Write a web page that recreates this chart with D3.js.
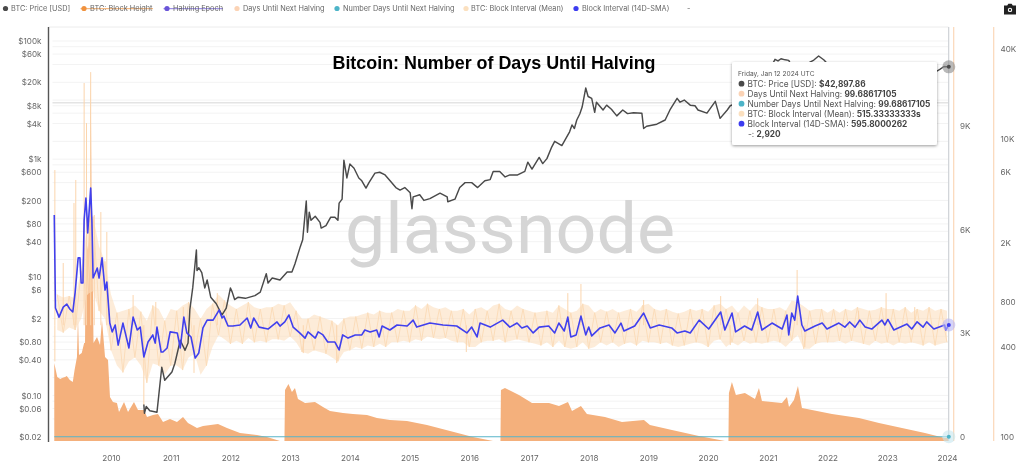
<!DOCTYPE html>
<html><head><meta charset="utf-8">
<script src="https://cdn.jsdelivr.net/npm/d3@7"></script>
<style>
html,body{margin:0;padding:0;background:#fff;overflow:hidden}
svg{display:block;filter:blur(0.35px)}
text{font-family:Inter,"Noto Sans",sans-serif}
</style></head><body><svg id="c" width="1024" height="467"></svg>
<script>
// ---------- data ----------
const yearTicks=[2010,2011,2012,2013,2014,2015,2016,2017,2018,2019,2020,2021,2022,2023,2024];
const priceTicks=[100000,60000,20000,8000,4000,1000,600,200,80,40,10,6,2,0.8,0.4,0.1,0.06,0.02];
const priceTickLabels=["$100k","$60k","$20k","$8k","$4k","$1k","$600","$200","$80","$40","$10","$6","$2","$0.80","$0.40","$0.10","$0.06","$0.02"];
const gridValues=[100000,80000,60000,40000,20000,10000,8000,6000,4000,2000,1000,800,600,400,200,100,80,60,40,20,10,8,6,4,2,1,0.8,0.6,0.4,0.2,0.1,0.08,0.06,0.04];
const daysTicks=[0,3000,6000,9000];
const daysTickLabels=["0","3K","6K","9K"];
const intervalTicks=[100,400,800,2000,6000,10000,40000];
const intervalTickLabels=["100","400","800","2K","6K","10K","40K"];
const price=[[2010.55,.07],[2010.56,.05],[2010.59,.065],[2010.65,.055],[2010.77,.052],[2010.80,.1],[2010.85,.30],[2010.90,.18],[2011.02,.25],[2011.07,.35],[2011.16,.86],[2011.24,.58],[2011.29,.77],[2011.32,2.8],[2011.37,6.8],[2011.43,29],[2011.44,13],[2011.47,14.5],[2011.52,12],[2011.57,6.6],[2011.61,9],[2011.67,4.6],[2011.76,3.6],[2011.86,2.3],[2011.93,3],[2012.0,6.6],[2012.03,5.6],[2012.07,4.2],[2012.13,4.6],[2012.25,4.4],[2012.41,4.9],[2012.50,5.6],[2012.60,11.5],[2012.63,8],[2012.70,9.7],[2012.83,9],[2012.95,12.3],[2013.03,12.3],[2013.08,16.8],[2013.17,33],[2013.21,43],[2013.27,196],[2013.29,58],[2013.32,126],[2013.35,92],[2013.42,108],[2013.50,85],[2013.52,68],[2013.60,75],[2013.68,104],[2013.75,104],[2013.80,92],[2013.82,180],[2013.87,210],[2013.90,960],[2013.95,480],[2014.0,825],[2014.07,700],[2014.15,480],[2014.20,430],[2014.27,324],[2014.32,400],[2014.42,580],[2014.50,600],[2014.59,540],[2014.67,435],[2014.77,330],[2014.84,300],[2014.92,330],[2015.01,270],[2015.04,145],[2015.06,230],[2015.17,250],[2015.24,200],[2015.34,215],[2015.51,265],[2015.63,230],[2015.64,190],[2015.76,210],[2015.84,330],[2015.93,400],[2016.04,400],[2016.14,330],[2016.26,430],[2016.35,450],[2016.40,620],[2016.51,620],[2016.60,500],[2016.68,540],[2016.81,540],[2016.93,620],[2016.98,890],[2017.05,680],[2017.17,1070],[2017.23,840],[2017.30,1020],[2017.38,1600],[2017.43,2000],[2017.55,1700],[2017.68,2900],[2017.72,3800],[2017.76,3300],[2017.80,4600],[2017.85,5800],[2017.89,7600],[2017.95,16000],[2017.99,11500],[2018.05,10700],[2018.10,6200],[2018.13,9200],[2018.24,6800],[2018.30,8200],[2018.38,7000],[2018.47,5400],[2018.57,6800],[2018.65,5900],[2018.75,6100],[2018.89,6000],[2018.92,3300],[2018.97,3600],[2019.14,3900],[2019.28,4600],[2019.36,6800],[2019.48,10700],[2019.53,9200],[2019.60,10000],[2019.70,8200],[2019.78,8000],[2019.83,6800],[2019.98,6000],[2020.12,9500],[2020.20,4900],[2020.32,6800],[2020.37,8000],[2020.60,10000],[2020.85,15000],[2021.0,29000],[2021.12,49000],[2021.17,46000],[2021.22,50000],[2021.29,48000],[2021.35,47000],[2021.45,30000],[2021.62,35000],[2021.69,43000],[2021.77,47600],[2021.85,55700],[2021.94,47600],[2021.99,42000],[2022.3,30000],[2022.6,20000],[2023.0,17000],[2023.5,29000],[2023.83,31000],[2023.88,33000],[2023.95,37000],[2024.03,36500]];
const daysUntil=[[2009.05,2262],[2009.10,1856],[2009.15,1798],[2009.18,1827],[2009.23,1856],[2009.26,1885],[2009.31,1769],[2009.36,1711],[2009.39,2059],[2009.43,2436],[2009.447,3596],[2009.464,2494],[2009.51,2552],[2009.55,2842],[2009.565,2842],[2009.58,5829],[2009.615,5539],[2009.648,6699],[2009.66,10701],[2009.673,7279],[2009.69,5500],[2009.70,4000],[2009.707,2842],[2009.766,3016],[2009.816,2784],[2009.849,3509],[2009.90,2436],[2009.95,2349],[2009.983,1276],[2010.033,1131],[2010.10,1102],[2010.134,841],[2010.218,1131],[2010.285,841],[2010.385,1131],[2010.452,899],[2010.553,899],[2010.603,696],[2010.703,754],[2010.787,783],[2010.871,551],[2010.988,638],[2011.105,551],[2011.206,696],[2011.289,522],[2011.44,377],[2011.541,435],[2011.792,493],[2011.942,377],[2012.16,232],[2012.445,174],[2012.612,116],[2012.83,0],[2012.905,0],[2012.914,1479],[2012.972,1653],[2013.03,1421],[2013.081,1537],[2013.131,1218],[2013.249,1102],[2013.416,1131],[2013.55,986],[2013.667,870],[2013.885,812],[2014.052,783],[2014.287,754],[2014.454,667],[2014.672,609],[2014.956,580],[2015.291,464],[2015.677,290],[2016.062,116],[2016.397,0],[2016.522,0],[2016.53,1479],[2016.597,1537],[2016.832,1334],[2017.05,1102],[2017.335,1102],[2017.502,1015],[2017.653,1131],[2017.72,870],[2017.87,1015],[2017.97,783],[2018.272,696],[2018.557,551],[2018.925,609],[2019.025,464],[2019.394,319],[2019.846,145],[2020.281,0],[2020.34,0],[2020.348,1392],[2020.398,1711],[2020.465,1334],[2020.616,1392],[2020.784,1218],[2020.851,1537],[2020.901,1160],[2021.069,1131],[2021.236,1102],[2021.32,1276],[2021.354,986],[2021.437,1189],[2021.504,1595],[2021.571,957],[2021.739,899],[2022.074,783],[2022.526,667],[2022.861,522],[2023.246,377],[2023.631,232],[2023.966,87],[2024.03,100]];
const numberDays=[[2009.05,0],[2024.03,0]];
const sma14=[[2009.05,3076],[2009.07,730],[2009.13,635],[2009.20,741],[2009.26,776],[2009.31,720],[2009.36,687],[2009.40,934],[2009.45,1585],[2009.48,1585],[2009.50,1075],[2009.53,1075],[2009.55,2846],[2009.58,3990],[2009.60,2900],[2009.61,2330],[2009.66,4670],[2009.68,2846],[2009.70,1161],[2009.77,1355],[2009.80,1161],[2009.85,1585],[2009.90,964],[2009.93,1091],[2009.98,579],[2010.02,505],[2010.07,562],[2010.12,412],[2010.20,579],[2010.30,394],[2010.37,635],[2010.44,520],[2010.49,544],[2010.55,343],[2010.62,432],[2010.70,482],[2010.74,425],[2010.77,544],[2010.84,370],[2010.87,370],[2010.94,394],[2010.99,505],[2011.11,497],[2011.16,394],[2011.22,635],[2011.27,497],[2011.34,467],[2011.41,337],[2011.47,365],[2011.54,537],[2011.61,606],[2011.71,606],[2011.81,708],[2011.86,626],[2011.89,645],[2011.96,553],[2012.04,553],[2012.16,562],[2012.28,626],[2012.34,537],[2012.39,626],[2012.48,544],[2012.63,528],[2012.78,589],[2012.83,553],[2012.91,589],[2012.98,656],[2013.05,544],[2013.16,497],[2013.25,459],[2013.30,505],[2013.42,459],[2013.47,505],[2013.55,482],[2013.63,432],[2013.75,432],[2013.82,382],[2013.88,482],[2013.97,459],[2014.09,482],[2014.20,482],[2014.25,520],[2014.34,505],[2014.45,520],[2014.49,467],[2014.54,553],[2014.67,520],[2014.79,562],[2014.96,553],[2015.06,606],[2015.12,544],[2015.34,579],[2015.56,562],[2015.79,553],[2015.96,497],[2016.04,544],[2016.13,467],[2016.18,579],[2016.35,544],[2016.56,606],[2016.68,544],[2016.80,579],[2016.88,537],[2016.97,553],[2017.07,497],[2017.17,544],[2017.33,553],[2017.43,497],[2017.50,579],[2017.59,512],[2017.65,635],[2017.70,467],[2017.79,482],[2017.87,645],[2017.95,482],[2018.00,544],[2018.05,475],[2018.19,537],[2018.34,562],[2018.44,497],[2018.54,579],[2018.59,512],[2018.77,553],[2018.92,676],[2019.03,537],[2019.18,562],[2019.39,537],[2019.48,497],[2019.61,512],[2019.70,497],[2019.85,606],[2020.01,528],[2020.21,687],[2020.28,520],[2020.40,676],[2020.46,505],[2020.61,553],[2020.73,520],[2020.83,687],[2020.90,520],[2021.07,579],[2021.24,528],[2021.32,656],[2021.35,482],[2021.40,676],[2021.45,606],[2021.50,879],[2021.57,562],[2021.62,512],[2021.79,553],[2021.91,579],[2021.99,528],[2022.19,579],[2022.29,544],[2022.37,589],[2022.46,544],[2022.54,606],[2022.63,544],[2022.74,528],[2022.91,606],[2022.96,562],[2023.01,612],[2023.11,520],[2023.33,570],[2023.41,528],[2023.50,590],[2023.60,544],[2023.66,590],[2023.78,528],[2023.96,562],[2023.98,520],[2024.03,562]];
const bandHigh=[900,860,880,850,1300,2600,3000,1900,1500,900, 680,700,720,760,690,600,760,720,600,720, 700,760,800,720,620,720,780,900,820,760, 720,760,800,740,720,740,740,780,760,800, 700,620,620,660,640,620,600,560,620,640, 640,660,680,660,700,680,680,720,700,700, 760,720,780,740,720,740,700,700,720,660, 720,740,700,760,780,720,700,760,720,700, 680,690,700,680,760,720,680,700,780,760, 680,720,690,720,680,700,720,690,760,780, 720,700,720,690,670,690,720,700,720,690, 760,780,720,760,680,760,700,780,740,720, 720,740,700,820,800,750,700,720,720,680, 720,680,720,700,740,720,700,710,740,720, 720,700,740,680,720,700,740,700,720,700];
const bandLow=[520,500,540,520,620,900,950,700,620,380, 300,270,320,340,300,230,310,300,260,300, 300,280,340,360,260,300,400,480,450,420, 440,420,460,430,440,430,450,450,440,470, 430,370,360,380,370,360,340,320,370,380, 400,390,410,400,420,400,430,430,440,430, 450,440,470,460,450,460,440,430,430,400, 400,430,440,440,450,430,440,450,440,430, 420,410,430,400,440,400,390,400,430,390, 400,430,410,430,400,420,430,410,440,430, 430,420,430,410,400,410,420,430,420,400, 440,450,400,430,410,440,420,430,420,430, 440,430,400,440,480,390,390,420,430,430, 430,440,420,440,430,420,410,440,420,430, 410,430,420,430,420,410,430,410,420,430];
const bandSpikes=[[2009.06,6160],[2009.06,320],[2009.2,1465],[2009.38,3700],[2009.41,5285],[2009.55,23650],[2009.59,12740],[2009.66,28000],[2009.72,3076],[2009.83,3220],[2009.93,2366],[2010.37,893],[2010.75,802],[2010.55,163],[2011.21,741],[2011.39,268],[2011.78,920],[2013.22,364],[2013.78,312],[2015.95,370],[2017.65,920],[2017.87,1059],[2018.92,827],[2020.21,879],[2020.37,412],[2020.83,850],[2021.49,1315],[2021.62,400],[2022.52,700],[2022.98,920],[2023.46,741]];
const legendNames=["BTC: Price [USD]","BTC: Block Height","Halving Epoch","Days Until Next Halving","Number Days Until Next Halving","BTC: Block Interval (Mean)","Block Interval (14D-SMA)","-"];
const legendColors=["#4a4a4a","#f0923e","#6a55d8","#fbd3b5","#4db4c8","#fbe0bf","#3c3cf0",null];
const legendStruck=[false,true,true,false,false,false,false,false];
const tooltipRows=[["BTC: Price [USD]: ","$42,897.86","#4a4a4a"],["Days Until Next Halving: ","99.68617105","#fbd3b5"],["Number Days Until Next Halving: ","99.68617105","#4db4c8"],["BTC: Block Interval (Mean): ","515.33333333s","#fbe0bf"],["Block Interval (14D-SMA): ","595.8000262","#3c3cf0"],["-: ","2,920",null]];
const tooltipDate="Friday, Jan 12 2024 UTC";
const titleText="Bitcoin: Number of Days Until Halving";

// ---------- scales ----------
const svg=d3.select("#c");
const plotLeft=48.5,plotTop=27,plotBottom=441,plotRight=948.5;
const x=d3.scaleLinear().domain([2010,2024]).range([111,947]);
const yPrice=d3.scaleLog().domain([0.02,100000]).range([436.7,41]);
const yDaysAxis=d3.scaleLinear().domain([0,9000]).range([436.7,126.2]);
const yDays=d3.scaleLinear().domain([0,9000]).range([plotBottom,plotBottom-310.5]);
const yInt=d3.scaleLog().domain([100,40000]).range([436.7,49]);
const endYear=2024.03;

// grid
svg.append("g").selectAll("line").data(gridValues).join("line")
 .attr("x1",plotLeft+4).attr("x2",plotRight).attr("y1",d=>yPrice(d)).attr("y2",d=>yPrice(d))
 .attr("stroke","#f3f3f3").attr("stroke-width",1);
svg.append("line").attr("x1",plotLeft+4).attr("x2",plotRight).attr("y1",yPrice(9000)).attr("y2",yPrice(9000)).attr("stroke","#e4e4e4").attr("stroke-width",1.3);
svg.append("line").attr("x1",plotLeft).attr("x2",plotRight).attr("y1",plotTop).attr("y2",plotTop).attr("stroke","#ececec");
// watermark
svg.append("text").attr("x",345).attr("y",253).attr("font-size",70).attr("font-weight",400).attr("fill","#d5d5d5").attr("textLength",330).attr("lengthAdjust","spacingAndGlyphs").style("font-family","Roboto,Inter,sans-serif").text("glassnode");
// axes frame
svg.append("line").attr("x1",plotLeft).attr("x2",plotLeft).attr("y1",plotTop).attr("y2",plotBottom+1).attr("stroke","#555").attr("stroke-width",1.4);
svg.append("line").attr("x1",plotRight).attr("x2",plotRight).attr("y1",plotTop).attr("y2",plotBottom).attr("stroke","#dcdcdc");
svg.append("line").attr("x1",953.7).attr("x2",953.7).attr("y1",plotTop).attr("y2",plotBottom).attr("stroke","#fbd8b8").attr("stroke-width",1.2);
svg.append("line").attr("x1",993.7).attr("x2",993.7).attr("y1",plotTop).attr("y2",plotBottom).attr("stroke","#fbd8b8").attr("stroke-width",1.2);

// area
svg.append("path").datum(daysUntil).attr("fill","#f4b07c")
 .attr("d",d3.area().x(d=>x(d[0])).y0(plotBottom).y1(d=>yDays(d[1])));
// block interval mean (pale)
const bandYears=d3.range(bandHigh.length).map(i=>2009.1+i*0.1);
const band=bandYears.map((t,i)=>({t,hi:bandHigh[i],lo:bandLow[i]}));
svg.append("path").datum(band).attr("fill","#fbdfc0").attr("fill-opacity",.6)
 .attr("d",d3.area().x(d=>x(d.t)).y0(d=>yInt(d.lo)).y1(d=>yInt(d.hi)));
svg.append("path").datum(band.map((d,i)=>[d.t,i%2?d.lo:d.hi])).attr("fill","none").attr("stroke","#fbdcb9").attr("stroke-width",1)
 .attr("d",d3.line().x(d=>x(d[0])).y(d=>yInt(d[1])));
svg.append("g").selectAll("line").data(bandSpikes).join("line")
 .attr("x1",d=>x(d[0])).attr("x2",d=>x(d[0])).attr("y1",d=>yInt(d[1])).attr("y2",yInt(560))
 .attr("stroke","#fbd5ad").attr("stroke-width",1);
// price
svg.append("path").datum(price).attr("fill","none").attr("stroke","#4a4a4a").attr("stroke-width",1.45).attr("stroke-linejoin","round")
 .attr("d",d3.line().x(d=>x(d[0])).y(d=>yPrice(d[1])));
// sma
svg.append("path").datum(sma14).attr("fill","none").attr("stroke","#4040ee").attr("stroke-width",1.6).attr("stroke-linejoin","round")
 .attr("d",d3.line().x(d=>x(d[0])).y(d=>yInt(d[1])));
// number days line
svg.append("path").datum(numberDays).attr("fill","none").attr("stroke","#57b5c9").attr("stroke-width",1.1)
 .attr("d",d3.line().x(d=>x(d[0])).y(d=>yDaysAxis(d[1])));

// axes labels
function styleAxis(g){g.select(".domain").remove();g.selectAll(".tick line").remove();
 g.selectAll("text").attr("fill","#666").attr("font-size",8.1).style("font-family","Inter,sans-serif");}
svg.append("g").attr("transform","translate(50,0)").call(d3.axisLeft(yPrice).tickValues(priceTicks).tickFormat((d,i)=>priceTickLabels[i]).tickPadding(8.5).tickSize(0)).call(styleAxis);
svg.append("g").attr("transform","translate(0,455.5)").call(d3.axisBottom(x).tickValues(yearTicks).tickFormat(d3.format("d")).tickSize(0).tickPadding(0)).call(styleAxis);
svg.append("g").attr("transform","translate(960,0)").call(d3.axisRight(yDaysAxis).tickValues(daysTicks).tickFormat((d,i)=>daysTickLabels[i]).tickSize(0).tickPadding(0)).call(styleAxis);
svg.append("g").attr("transform","translate(1000.5,0)").call(d3.axisRight(yInt).tickValues(intervalTicks).tickFormat((d,i)=>intervalTickLabels[i]).tickSize(0).tickPadding(0)).call(styleAxis);

// end markers
const endMarks=[[yPrice(36500),"#8a8a8a","#4a4a4a"],[yInt(562),"#b9b6f3","#3c3cf0"],[yDaysAxis(0),"#c7e6ef","#4db4c8"]];
svg.append("line").attr("x1",x(endYear)).attr("x2",x(endYear)).attr("y1",plotTop).attr("y2",plotBottom).attr("stroke","#cfd3d8");
endMarks.forEach(e=>{
 svg.append("circle").attr("cx",x(endYear)).attr("cy",e[0]).attr("r",6.5).attr("fill",e[1]).attr("fill-opacity",.6);
 svg.append("circle").attr("cx",x(endYear)).attr("cy",e[0]).attr("r",2).attr("fill",e[2]);
});

// title
svg.append("text").attr("x",494).attr("y",69).attr("text-anchor","middle").attr("font-size",17.9).attr("font-weight",700).attr("fill","#000").style("font-family","'Liberation Sans',Arial,sans-serif").text(titleText);

// tooltip
const defs=svg.append("defs");
const shadow=defs.append("filter").attr("id","sh").attr("x","-10%").attr("y","-10%").attr("width","120%").attr("height","125%");
shadow.append("feDropShadow").attr("dx",0).attr("dy",1).attr("stdDeviation",1.6).attr("flood-color","#000").attr("flood-opacity",.4);
const tipX=732,tipY=62;
const tip=svg.append("g").attr("transform",`translate(${tipX},${tipY})`);
tip.append("rect").attr("width",205).attr("height",83).attr("rx",2).attr("fill","#fff").attr("filter","url(#sh)");
tip.append("text").attr("x",6).attr("y",14).attr("font-size",6.6).attr("fill","#555").text(tooltipDate);
tooltipRows.forEach((r,i)=>{
 const yy=24.6+i*10;
 if(r[2]) tip.append("circle").attr("cx",9.5).attr("cy",yy-2.9).attr("r",2.9).attr("fill",r[2]);
 const t=tip.append("text").attr("x",r[2]?15.5:16).attr("y",yy).attr("font-size",8.3).attr("fill","#555");
 t.append("tspan").text(r[0]);
 t.append("tspan").attr("font-weight",700).attr("fill","#444").text(r[1]);
});

// legend
const legendDotX=[5.5,84,167,237,337,466,576,null];
const legendTextX=[11,90,173,243,343,471,582,687];
const legendTextEnd=[71,153,223,325,455,564,669,690];
legendNames.forEach((n,i)=>{
 if(legendColors[i]) svg.append("circle").attr("cx",legendDotX[i]).attr("cy",8.5).attr("r",2.6).attr("fill",legendColors[i]);
 if(legendStruck[i]) svg.append("line").attr("x1",legendDotX[i]-3.5).attr("x2",legendTextEnd[i]).attr("y1",8.7).attr("y2",8.7).attr("stroke",legendColors[i]).attr("stroke-width",.8);
 svg.append("text").attr("x",legendTextX[i]).attr("y",11).attr("font-size",7.35).attr("fill","#666").text(n);
});
// camera icon
const cam=svg.append("g").attr("transform","translate(1010,9.5)");
cam.append("path").attr("d","M-6,-4 L-2.8,-4 L-1.6,-5.8 L1.6,-5.8 L2.8,-4 L6,-4 L6,5 L-6,5 Z").attr("fill","#222");
cam.append("circle").attr("r",2.2).attr("cy",.4).attr("fill","#fff");
cam.append("circle").attr("r",1.1).attr("cy",.4).attr("fill","#222");
</script></body></html>
